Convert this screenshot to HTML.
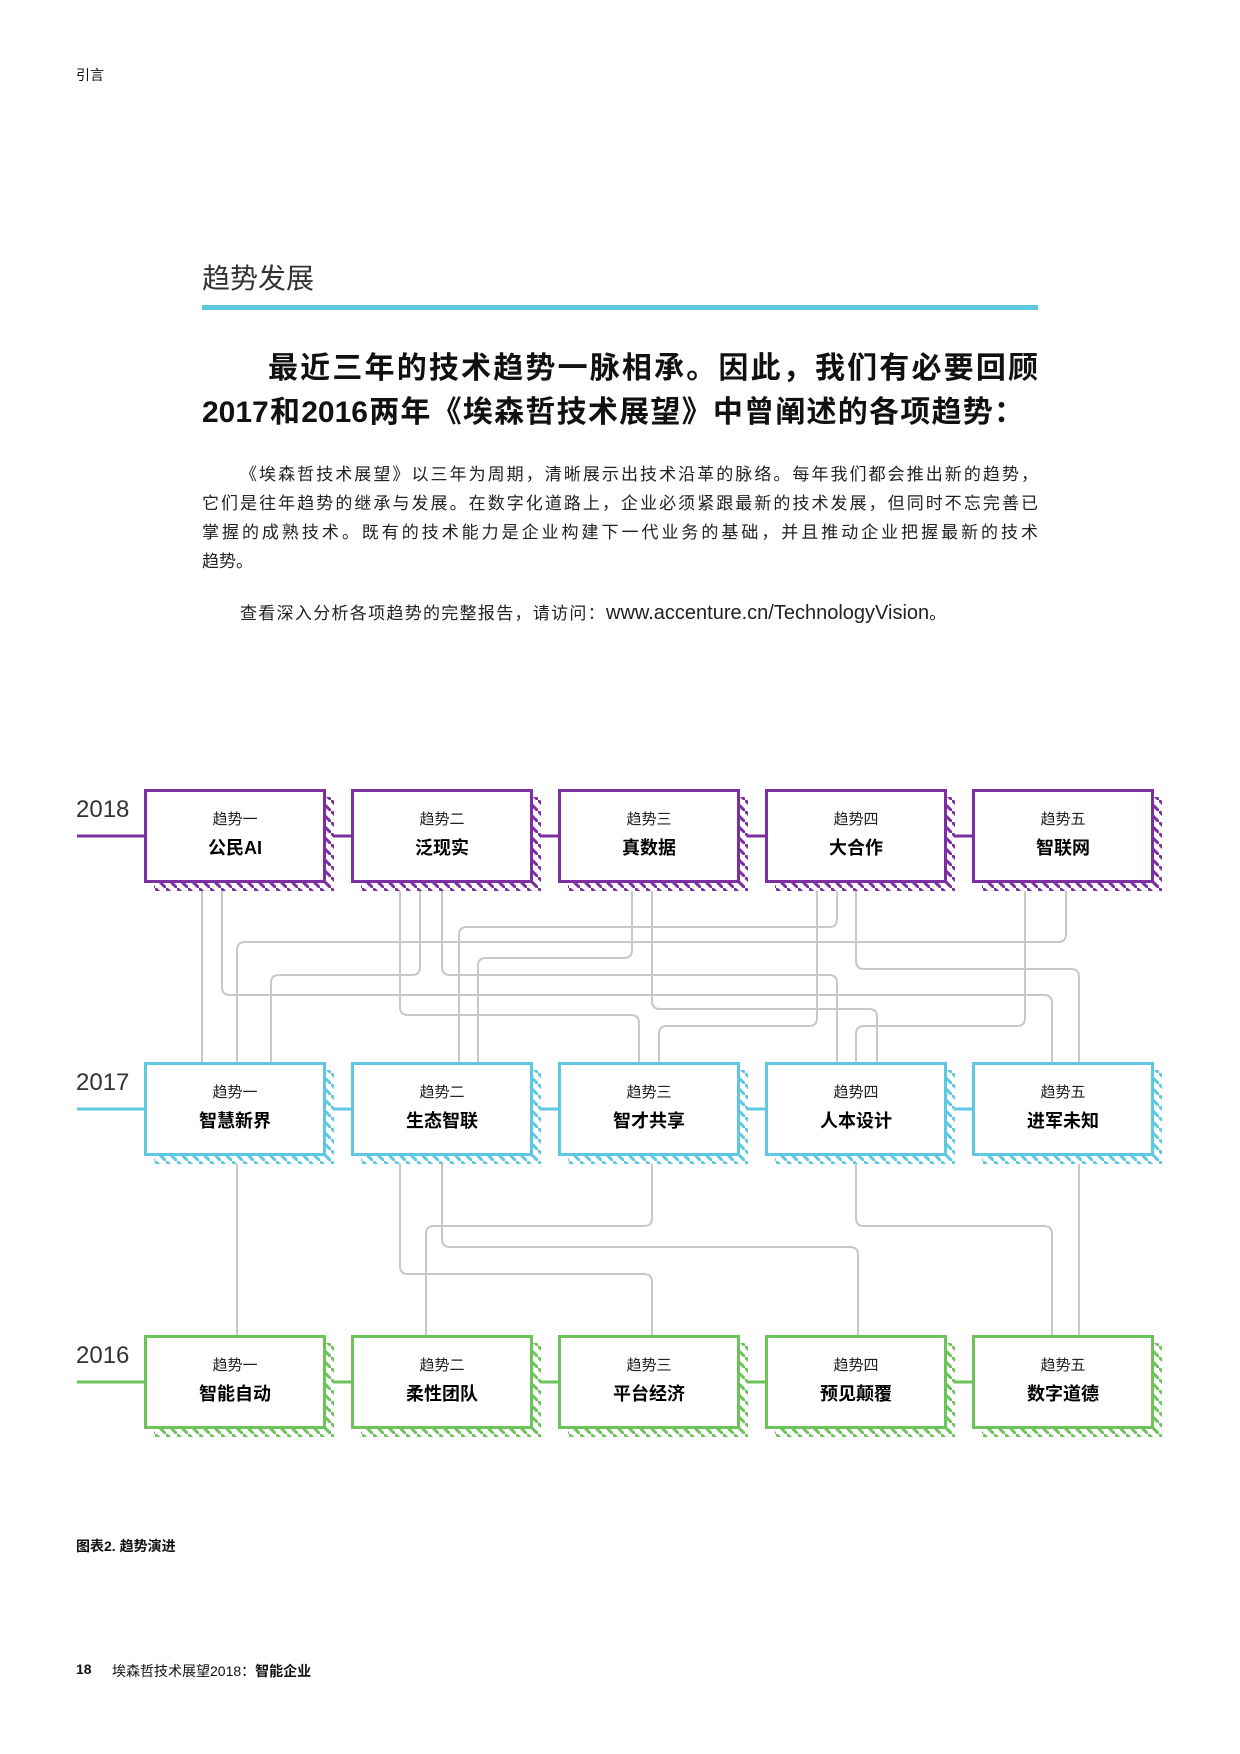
<!DOCTYPE html>
<html><head><meta charset="utf-8">
<style>
body{margin:0;background:#fff}
#p{position:relative;width:1240px;height:1754px;overflow:hidden;font-family:"Liberation Sans","Noto Sans CJK SC",sans-serif;color:#111}
.a{position:absolute;white-space:nowrap}
.j{position:absolute;left:202px;width:836px;text-align:justify;text-align-last:justify;white-space:nowrap;font-size:17px;color:#222}
</style></head><body><div id="p">
<div class="a" style="left:76px;top:65px;font-size:14px;">引言</div>
<div class="a" style="left:202px;top:257px;font-size:28px;color:#333;">趋势发展</div>
<div class="a" style="left:202px;top:305px;width:836px;height:5px;background:#5ec8e2;"></div>
<div class="a" style="left:268px;top:343px;width:770px;font-size:30px;font-weight:bold;text-align:justify;text-align-last:justify;">最近三年的技术趋势一脉相承。因此，我们有必要回顾</div>
<div class="a" style="left:202px;top:387px;width:822px;font-size:30px;font-weight:bold;text-align:justify;text-align-last:justify;">2017和2016两年《埃森哲技术展望》中曾阐述的各项趋势：</div>
<div class="j" style="left:240px;width:798px;top:460px;">《埃森哲技术展望》以三年为周期，清晰展示出技术沿革的脉络。每年我们都会推出新的趋势，</div>
<div class="j" style="top:489px;">它们是往年趋势的继承与发展。在数字化道路上，企业必须紧跟最新的技术发展，但同时不忘完善已</div>
<div class="j" style="top:518px;">掌握的成熟技术。既有的技术能力是企业构建下一代业务的基础，并且推动企业把握最新的技术</div>
<div class="a" style="left:202px;top:547px;font-size:17px;color:#222;">趋势。</div>
<div class="a" style="left:240px;top:599px;font-size:17px;color:#222;"><span style="letter-spacing:1.3px">查看深入分析各项趋势的完整报告，请访问：</span><span style="font-size:20px">www.accenture.cn/TechnologyVision</span>。</div>

<svg class="a" style="left:0;top:0" width="1240" height="1754" xmlns="http://www.w3.org/2000/svg">
<defs>
<pattern id="hp" patternUnits="userSpaceOnUse" width="11" height="11"><path d="M-3 -3L14 14" stroke="#7b2fa0" stroke-width="3"/></pattern>
<pattern id="hc" patternUnits="userSpaceOnUse" width="11" height="11"><path d="M-3 -3L14 14" stroke="#5ec8e2" stroke-width="3"/></pattern>
<pattern id="hg" patternUnits="userSpaceOnUse" width="11" height="11"><path d="M-3 -3L14 14" stroke="#6cc35a" stroke-width="3"/></pattern>
<g id="b"><rect x="1.5" y="1.5" width="179" height="91" fill="#fff" stroke-width="3"/></g>
</defs>
<g fill="none" stroke="#c8c8c8" stroke-width="2">
<path d="M202 891V1062"/>
<path d="M222 891V987Q222 995 230 995H1044Q1052 995 1052 1003V1062"/>
<path d="M1066 891V934Q1066 942 1058 942H245Q237 942 237 950V1062"/>
<path d="M420 891V967Q420 975 412 975H279Q271 975 271 983V1062"/>
<path d="M400 891V1007Q400 1015 408 1015H631Q639 1015 639 1023V1062"/>
<path d="M442 891V967Q442 975 450 975H829Q837 975 837 983V1062"/>
<path d="M837 891V919Q837 927 829 927H467Q459 927 459 935V1062"/>
<path d="M632 891V950Q632 958 624 958H486Q478 958 478 966V1062"/>
<path d="M652 891V1001Q652 1009 660 1009H869Q877 1009 877 1017V1062"/>
<path d="M817 891V1018Q817 1026 809 1026H667Q659 1026 659 1034V1062"/>
<path d="M1025 891V1018Q1025 1026 1017 1026H864Q856 1026 856 1034V1062"/>
<path d="M856 891V961Q856 969 864 969H1071Q1079 969 1079 977V1062"/>
<path d="M237 1164V1335"/>
<path d="M400 1164V1266Q400 1274 408 1274H644Q652 1274 652 1282V1335"/>
<path d="M442 1164V1239Q442 1247 450 1247H850Q858 1247 858 1255V1335"/>
<path d="M652 1164V1218Q652 1226 644 1226H434Q426 1226 426 1234V1335"/>
<path d="M856 1164V1218Q856 1226 864 1226H1044Q1052 1226 1052 1234V1335"/>
<path d="M1079 1164V1335"/>
</g>
<g stroke-width="3">
<line x1="77" y1="836" x2="144" y2="836" stroke="#7b2fa0"/>
<line x1="334" y1="836" x2="351" y2="836" stroke="#7b2fa0"/>
<line x1="541" y1="836" x2="558" y2="836" stroke="#7b2fa0"/>
<line x1="748" y1="836" x2="765" y2="836" stroke="#7b2fa0"/>
<line x1="955" y1="836" x2="972" y2="836" stroke="#7b2fa0"/>
<line x1="77" y1="1109" x2="144" y2="1109" stroke="#5ec8e2"/>
<line x1="334" y1="1109" x2="351" y2="1109" stroke="#5ec8e2"/>
<line x1="541" y1="1109" x2="558" y2="1109" stroke="#5ec8e2"/>
<line x1="748" y1="1109" x2="765" y2="1109" stroke="#5ec8e2"/>
<line x1="955" y1="1109" x2="972" y2="1109" stroke="#5ec8e2"/>
<line x1="77" y1="1382" x2="144" y2="1382" stroke="#6cc35a"/>
<line x1="334" y1="1382" x2="351" y2="1382" stroke="#6cc35a"/>
<line x1="541" y1="1382" x2="558" y2="1382" stroke="#6cc35a"/>
<line x1="748" y1="1382" x2="765" y2="1382" stroke="#6cc35a"/>
<line x1="955" y1="1382" x2="972" y2="1382" stroke="#6cc35a"/>
</g>
<g font-family="Liberation Sans, sans-serif" font-size="24" fill="#333">
<text x="76" y="817">2018</text><text x="76" y="1090">2017</text><text x="76" y="1363">2016</text>
</g>
<g stroke="#7b2fa0">
<g transform="translate(144,789)"><rect x="182" y="8" width="8" height="94" fill="url(#hp)" stroke="none"/><rect x="10" y="94" width="180" height="8" fill="url(#hp)" stroke="none"/><use href="#b"/></g>
<g transform="translate(351,789)"><rect x="182" y="8" width="8" height="94" fill="url(#hp)" stroke="none"/><rect x="10" y="94" width="180" height="8" fill="url(#hp)" stroke="none"/><use href="#b"/></g>
<g transform="translate(558,789)"><rect x="182" y="8" width="8" height="94" fill="url(#hp)" stroke="none"/><rect x="10" y="94" width="180" height="8" fill="url(#hp)" stroke="none"/><use href="#b"/></g>
<g transform="translate(765,789)"><rect x="182" y="8" width="8" height="94" fill="url(#hp)" stroke="none"/><rect x="10" y="94" width="180" height="8" fill="url(#hp)" stroke="none"/><use href="#b"/></g>
<g transform="translate(972,789)"><rect x="182" y="8" width="8" height="94" fill="url(#hp)" stroke="none"/><rect x="10" y="94" width="180" height="8" fill="url(#hp)" stroke="none"/><use href="#b"/></g>
</g>
<g stroke="#5ec8e2">
<g transform="translate(144,1062)"><rect x="182" y="8" width="8" height="94" fill="url(#hc)" stroke="none"/><rect x="10" y="94" width="180" height="8" fill="url(#hc)" stroke="none"/><use href="#b"/></g>
<g transform="translate(351,1062)"><rect x="182" y="8" width="8" height="94" fill="url(#hc)" stroke="none"/><rect x="10" y="94" width="180" height="8" fill="url(#hc)" stroke="none"/><use href="#b"/></g>
<g transform="translate(558,1062)"><rect x="182" y="8" width="8" height="94" fill="url(#hc)" stroke="none"/><rect x="10" y="94" width="180" height="8" fill="url(#hc)" stroke="none"/><use href="#b"/></g>
<g transform="translate(765,1062)"><rect x="182" y="8" width="8" height="94" fill="url(#hc)" stroke="none"/><rect x="10" y="94" width="180" height="8" fill="url(#hc)" stroke="none"/><use href="#b"/></g>
<g transform="translate(972,1062)"><rect x="182" y="8" width="8" height="94" fill="url(#hc)" stroke="none"/><rect x="10" y="94" width="180" height="8" fill="url(#hc)" stroke="none"/><use href="#b"/></g>
</g>
<g stroke="#6cc35a">
<g transform="translate(144,1335)"><rect x="182" y="8" width="8" height="94" fill="url(#hg)" stroke="none"/><rect x="10" y="94" width="180" height="8" fill="url(#hg)" stroke="none"/><use href="#b"/></g>
<g transform="translate(351,1335)"><rect x="182" y="8" width="8" height="94" fill="url(#hg)" stroke="none"/><rect x="10" y="94" width="180" height="8" fill="url(#hg)" stroke="none"/><use href="#b"/></g>
<g transform="translate(558,1335)"><rect x="182" y="8" width="8" height="94" fill="url(#hg)" stroke="none"/><rect x="10" y="94" width="180" height="8" fill="url(#hg)" stroke="none"/><use href="#b"/></g>
<g transform="translate(765,1335)"><rect x="182" y="8" width="8" height="94" fill="url(#hg)" stroke="none"/><rect x="10" y="94" width="180" height="8" fill="url(#hg)" stroke="none"/><use href="#b"/></g>
<g transform="translate(972,1335)"><rect x="182" y="8" width="8" height="94" fill="url(#hg)" stroke="none"/><rect x="10" y="94" width="180" height="8" fill="url(#hg)" stroke="none"/><use href="#b"/></g>
</g>
<g font-family="Liberation Sans, Noto Sans CJK SC, sans-serif" text-anchor="middle" fill="#222">
<g font-size="15">
<text x="235" y="824">趋势一</text><text x="442" y="824">趋势二</text><text x="649" y="824">趋势三</text><text x="856" y="824">趋势四</text><text x="1063" y="824">趋势五</text>
<text x="235" y="1097">趋势一</text><text x="442" y="1097">趋势二</text><text x="649" y="1097">趋势三</text><text x="856" y="1097">趋势四</text><text x="1063" y="1097">趋势五</text>
<text x="235" y="1370">趋势一</text><text x="442" y="1370">趋势二</text><text x="649" y="1370">趋势三</text><text x="856" y="1370">趋势四</text><text x="1063" y="1370">趋势五</text>
</g>
<g font-size="18" font-weight="bold" fill="#000">
<text x="235" y="854">公民AI</text><text x="442" y="854">泛现实</text><text x="649" y="854">真数据</text><text x="856" y="854">大合作</text><text x="1063" y="854">智联网</text>
<text x="235" y="1127">智慧新界</text><text x="442" y="1127">生态智联</text><text x="649" y="1127">智才共享</text><text x="856" y="1127">人本设计</text><text x="1063" y="1127">进军未知</text>
<text x="235" y="1400">智能自动</text><text x="442" y="1400">柔性团队</text><text x="649" y="1400">平台经济</text><text x="856" y="1400">预见颠覆</text><text x="1063" y="1400">数字道德</text>
</g>
</g>
</svg>

<div class="a" style="left:76px;top:1536px;font-size:14px;font-weight:bold;">图表2. 趋势演进</div>
<div class="a" style="left:76px;top:1661px;font-size:14px;font-weight:bold;">18</div>
<div class="a" style="left:112px;top:1661px;font-size:14px;">埃森哲技术展望2018：<b>智能企业</b></div>
</div></body></html>
